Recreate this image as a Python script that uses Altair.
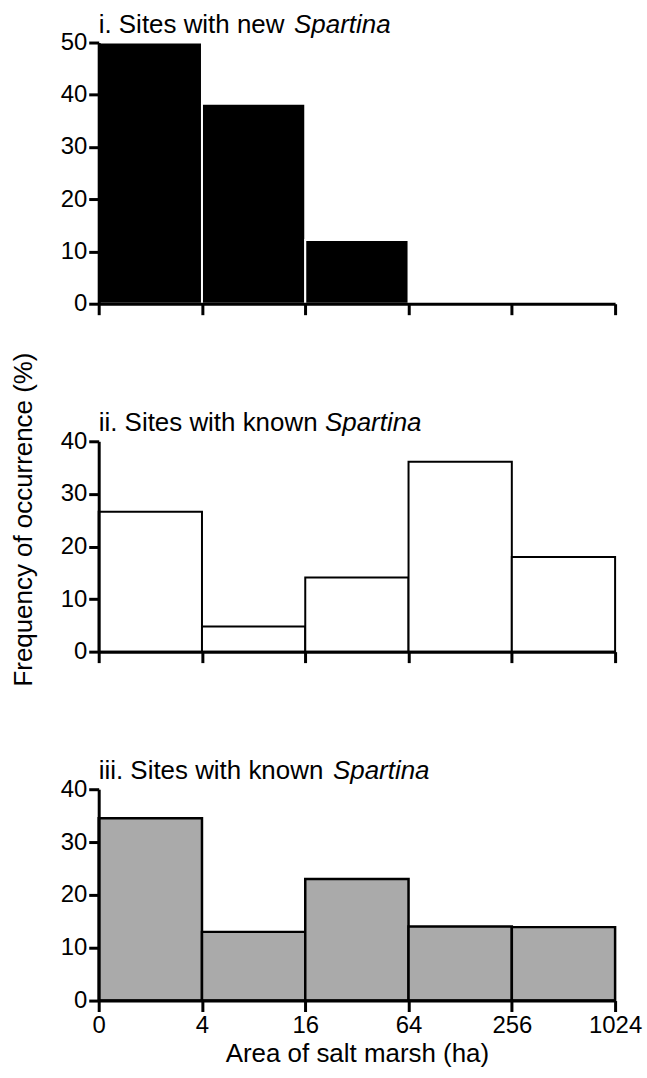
import altair as alt
import pandas as pd

# ---- data ----
bin_edges = [0, 4, 16, 64, 256, 1024]          # area of salt marsh (ha), log4 classes
new_values = [50.0, 38.3, 12.2, 0.0, 0.0]        # i. sites with new Spartina (%)
known_ii_values = [26.6, 4.8, 14.1, 36.1, 18.0]  # ii. sites with known Spartina (%)
known_iii_values = [34.5, 13.0, 23.0, 14.0, 13.9]  # iii. sites with known Spartina (%)
panel_titles = ["i. Sites with new", "ii. Sites with known", "iii. Sites with known"]
italic_word = "Spartina"
italic_offsets = [196, 227, 235]
y_max = [50, 40, 40]
y_step = 10
y_title = "Frequency of occurrence (%)"
x_title = "Area of salt marsh (ha)"

FONT = "Liberation Sans"
W = 518
HEIGHTS = [262, 211, 212]

n_bins = len(bin_edges) - 1
label_expr = "[" + ",".join(str(e) for e in bin_edges) + "][datum.value]"


def panel(values, idx, fill, stroke, stroke_w, show_x_labels, show_y_title):
    df = pd.DataFrame({
        "lo": list(range(n_bins)),
        "hi": list(range(1, n_bins + 1)),
        "v": values,
    })
    x_axis = alt.Axis(
        values=list(range(n_bins + 1)),
        labels=show_x_labels,
        labelExpr=label_expr,
        labelFontSize=24,
        labelPadding=2,
        labelFlush=False,
        labelOverlap=False,
        tickSize=11,
        grid=False,
        title=x_title if show_x_labels else None,
        titleFontSize=26,
        titleFontWeight="normal",
        titlePadding=3,
        zindex=1,
    )
    y_axis_kwargs = dict(
        values=list(range(0, y_max[idx] + 1, y_step)),
        labelFontSize=24,
        labelPadding=2,
        labelFlush=False,
        tickSize=10,
        grid=False,
        zindex=1,
        title=None,
    )
    if show_y_title:
        y_axis_kwargs.update(
            title=y_title,
            titleFontSize=26,
            titleFontWeight="normal",
            titleAngle=270,
            titleBaseline="bottom",
            titleAlign="center",
            titleX=-62,
            titleY=78,
        )
    bars = alt.Chart(df).mark_bar(
        fill=fill, stroke=stroke, strokeWidth=stroke_w
    ).encode(
        x=alt.X("lo:Q", scale=alt.Scale(domain=[0, n_bins], nice=False, zero=False), axis=x_axis),
        x2="hi:Q",
        y=alt.Y("v:Q", scale=alt.Scale(domain=[0, y_max[idx]], nice=False), axis=alt.Axis(**y_axis_kwargs)),
        y2=alt.datum(0),
    )
    t_df = pd.DataFrame({"t": [panel_titles[idx]]})
    i_df = pd.DataFrame({"t": [italic_word]})
    title_plain = alt.Chart(t_df).mark_text(
        align="left", baseline="alphabetic", fontSize=26, font=FONT, color="black"
    ).encode(text="t:N", x=alt.value(0), y=alt.value(-10))
    title_ital = alt.Chart(i_df).mark_text(
        align="left", baseline="alphabetic", fontSize=26, font=FONT, fontStyle="italic", color="black"
    ).encode(text="t:N", x=alt.value(italic_offsets[idx]), y=alt.value(-10))
    return alt.layer(bars, title_plain, title_ital).properties(width=W, height=HEIGHTS[idx])


p1 = panel(new_values, 0, "black", "white", 2, False, False)
p2 = panel(known_ii_values, 1, "white", "black", 2, False, True)
p3 = panel(known_iii_values, 2, "#aaaaaa", "black", 2.5, True, False)

chart = alt.vconcat(p1, p2, p3, spacing=138, bounds="flush").properties(
    padding={"left": 10, "top": 10, "right": 5, "bottom": 5},
    background="white",
).configure_view(stroke=None).configure_axis(
    domainColor="black",
    domainWidth=3,
    tickColor="black",
    tickWidth=3,
    labelColor="black",
    titleColor="black",
    labelFont=FONT,
    titleFont=FONT,
    grid=False,
)

chart.save("out.html", embed_options={"renderer": "svg", "actions": False})
